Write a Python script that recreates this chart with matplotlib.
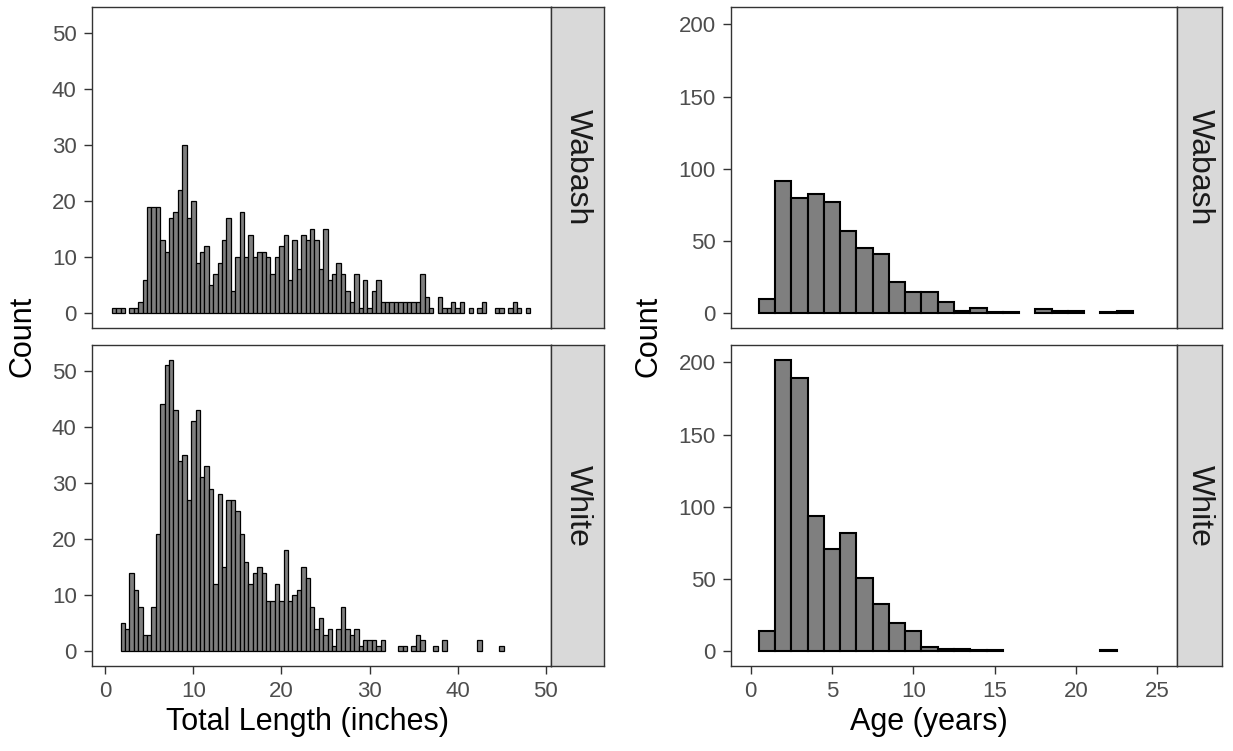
import numpy as np
import matplotlib
matplotlib.use("Agg")
import matplotlib.pyplot as plt

plt.rcParams['font.family'] = ['Liberation Sans', 'DejaVu Sans']

# ---- data ----
rivers = ["Wabash", "White"]

# total length histogram, binwidth 0.5 in, bin centres 1.0 .. 48.0
len_centres = np.arange(1.0, 48.01, 0.5)
len_wabash = [1, 1, 1, 0, 1, 1, 2, 6, 19, 19, 19, 13, 11, 17, 18, 22, 30, 17, 20, 9,
              11, 12, 5, 7, 9, 13, 17, 4, 10, 18, 10, 14, 10, 11, 11, 10, 7, 10, 12, 14,
              6, 13, 8, 14, 13, 15, 13, 8, 15, 6, 7, 9, 7, 4, 2, 7, 1, 6, 1, 4,
              6, 2, 2, 2, 2, 2, 2, 2, 2, 2, 7, 3, 1, 0, 3, 1, 1, 2, 1, 2,
              0, 1, 0, 1, 2, 0, 0, 1, 1, 0, 1, 2, 1, 0, 1]
len_white = [0, 0, 5, 4, 14, 11, 8, 3, 3, 8, 21, 44, 51, 52, 43, 34, 35, 27, 41, 43,
             31, 33, 29, 12, 28, 15, 27, 27, 25, 21, 16, 12, 14, 15, 14, 9, 9, 12, 9, 18,
             9, 10, 11, 15, 13, 8, 4, 6, 3, 4, 1, 4, 8, 4, 3, 4, 1, 2, 2, 2,
             1, 2, 0, 0, 0, 1, 1, 0, 1, 3, 2, 0, 0, 1, 0, 2, 0, 0, 0, 0,
             0, 0, 0, 2, 0, 0, 0, 0, 1, 0, 0, 0, 0, 0, 0]

# age histogram, binwidth 1 yr, bin centres 1 .. 23
age_centres = np.arange(1, 24)
age_wabash = [10, 92, 80, 83, 77, 57, 45, 41, 22, 15, 15, 8, 2, 4, 1, 1, 0, 3, 2, 2, 0, 1, 2]
age_white = [14, 202, 189, 94, 71, 82, 51, 33, 20, 14, 3, 2, 2, 1, 1, 0, 0, 0, 0, 0, 0, 1, 0]

W, H = 1233, 751
fig = plt.figure(figsize=(W / 100, H / 100), dpi=100)


def box(x0, y0, x1, y1):
    return [x0 / W, 1 - y1 / H, (x1 - x0) / W, (y1 - y0) / H]


def style(ax):
    for s in ax.spines.values():
        s.set_color('#333333')
        s.set_linewidth(1.0)
    ax.tick_params(direction='out', length=5.5, width=1.0, color='#333333',
                   labelcolor='#4D4D4D', labelsize=16, pad=5.5)


def strip(x0, y0, x1, y1, label):
    s = fig.add_axes(box(x0, y0, x1, y1))
    s.set_facecolor('#D9D9D9')
    s.set_xticks([])
    s.set_yticks([])
    for sp in s.spines.values():
        sp.set_color('#333333')
        sp.set_linewidth(1.0)
    s.text(0.5, 0.5, label, rotation=-90, ha='center', va='center',
           fontsize=23, color='#1A1A1A', transform=s.transAxes)


def hist(ax, centres, counts, width, lw):
    centres = np.asarray(centres)
    counts = np.asarray(counts)
    keep = counts > 0
    ax.bar(centres[keep], counts[keep], width=width, color='#7F7F7F',
           edgecolor='black', linewidth=lw)


rows = [(7, 328), (345, 666)]

# ---- left plot: total length ----
for (y0, y1), river, counts in zip(rows, rivers, [len_wabash, len_white]):
    ax = fig.add_axes(box(92, y0, 551, y1))
    hist(ax, len_centres, counts, 0.5, 0.9)
    ax.set_xlim(-1.5, 50.6)
    ax.set_ylim(-2.6, 54.6)
    ax.set_yticks([0, 10, 20, 30, 40, 50])
    ax.set_xticks([0, 10, 20, 30, 40, 50])
    style(ax)
    if river == "Wabash":
        ax.tick_params(axis='x', length=0, labelbottom=False)
    strip(551, y0, 604, y1, river)

fig.text(22 / W, 1 - 336 / H, "Count", rotation=90, ha='center', va='center', fontsize=22)
fig.text(307 / W, 1 - 722 / H, "Total Length (inches)", ha='center', va='center', fontsize=22)

# ---- right plot: age ----
for (y0, y1), river, counts in zip(rows, rivers, [age_wabash, age_white]):
    ax = fig.add_axes(box(731, y0, 1177, y1))
    hist(ax, age_centres, counts, 1.0, 1.5)
    ax.set_xlim(-1.2, 26.2)
    ax.set_ylim(-10.1, 212.1)
    ax.set_yticks([0, 50, 100, 150, 200])
    ax.set_xticks([0, 5, 10, 15, 20, 25])
    style(ax)
    if river == "Wabash":
        ax.tick_params(axis='x', length=0, labelbottom=False)
    strip(1177, y0, 1222, y1, river)

fig.text(648 / W, 1 - 336 / H, "Count", rotation=90, ha='center', va='center', fontsize=22)
fig.text(929 / W, 1 - 722 / H, "Age (years)", ha='center', va='center', fontsize=22)

fig.savefig("out.png", dpi=100, facecolor='white')
